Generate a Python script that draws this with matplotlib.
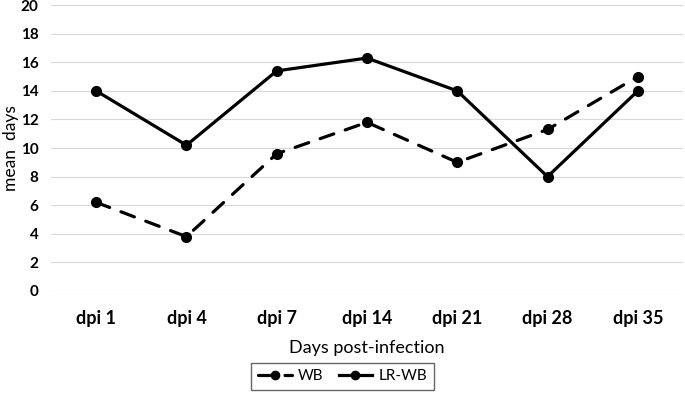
import matplotlib; matplotlib.use("Agg")
import matplotlib.pyplot as plt

categories = ["dpi 1", "dpi 4", "dpi 7", "dpi 14", "dpi 21", "dpi 28", "dpi 35"]
wb = [6.2, 3.8, 9.6, 11.8, 9.0, 11.3, 15.0]
lr_wb = [14.0, 10.2, 15.4, 16.3, 14.0, 8.0, 14.0]
yticks = list(range(0, 21, 2))

plt.rcParams["font.family"] = ["Lato", "DejaVu Sans"]

fig = plt.figure(figsize=(6.85, 3.98), dpi=100)
ax = fig.add_axes([0.0745, 0.269, 0.9225, 0.718])

x = range(len(categories))
ax.plot(x, wb, color="black", lw=2.3, ls=(0, (4.5, 3.8)), dash_capstyle="round",
        marker="o", ms=7, label="WB", zorder=3)
ax.plot(x, lr_wb, color="black", lw=2.3, marker="o", ms=7, label="LR-WB", zorder=3)

ax.set_xlim(-0.5, len(categories) - 0.5)
ax.set_ylim(0, 20)
ax.set_yticks(yticks)
ax.set_xticks(list(x))
ax.set_xticklabels(categories, fontsize=13, fontweight="bold")
for t in ax.get_yticklabels():
    t.set_fontweight("bold"); t.set_fontsize(11)
ax.grid(axis="y", color="#d9d9d9", lw=0.8)
ax.set_axisbelow(True)
for s in ax.spines.values():
    s.set_visible(False)
ax.tick_params(length=0)
ax.tick_params(axis="x", pad=14)
ax.tick_params(axis="y", pad=9)
ax.set_ylabel("mean  days", fontsize=12.5)
ax.yaxis.set_label_coords(-0.051, 0.5)
ax.set_xlabel("Days post-infection", fontsize=13, labelpad=9)

leg = fig.legend(loc="lower center", bbox_to_anchor=(0.5, 0.0), ncol=2, frameon=True,
                 fancybox=False, edgecolor="#404040", fontsize=11, handlelength=2.2,
                 handletextpad=0.4, columnspacing=1.0, borderpad=0.45, markerscale=0.85)
leg.get_frame().set_linewidth(1.0)

fig.savefig("out.png", dpi=100)
